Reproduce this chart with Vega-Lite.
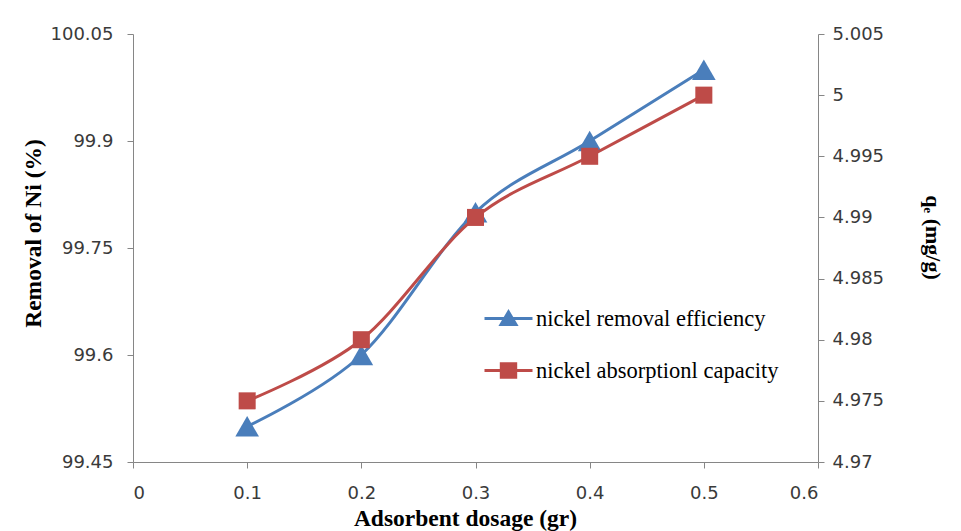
{
  "$schema": "https://vega.github.io/schema/vega-lite/v6.json",
  "width": 685,
  "height": 428,
  "autosize": {"type": "none"},
  "padding": {"left": 133, "top": 34, "right": 143, "bottom": 69},
  "background": "white",
  "config": {
    "view": {"stroke": null},
    "axis": {
      "grid": false,
      "domainColor": "#868686",
      "tickColor": "#868686",
      "labelFont": "DejaVu Sans",
      "labelFontSize": 18,
      "labelColor": "#3a3a3a",
      "titleFont": "Liberation Serif",
      "titleFontSize": 23.5,
      "titleFontWeight": "bold",
      "titleColor": "black",
      "tickSize": 6
    }
  },
  "data": {
    "values": [
      {"dosage": 0.1, "series": "nickel removal efficiency", "value": 99.5},
      {"dosage": 0.2, "series": "nickel removal efficiency", "value": 99.6},
      {"dosage": 0.3, "series": "nickel removal efficiency", "value": 99.8},
      {"dosage": 0.4, "series": "nickel removal efficiency", "value": 99.9},
      {"dosage": 0.5, "series": "nickel removal efficiency", "value": 100.0},
      {"dosage": 0.1, "series": "nickel absorptionl capacity", "value": 4.975},
      {"dosage": 0.2, "series": "nickel absorptionl capacity", "value": 4.98},
      {"dosage": 0.3, "series": "nickel absorptionl capacity", "value": 4.99},
      {"dosage": 0.4, "series": "nickel absorptionl capacity", "value": 4.995},
      {"dosage": 0.5, "series": "nickel absorptionl capacity", "value": 5.0}
    ]
  },
  "encoding": {
    "x": {
      "field": "dosage",
      "type": "quantitative",
      "scale": {"domain": [0, 0.6], "nice": false, "zero": false},
      "axis": {
        "title": "Adsorbent dosage (gr)",
        "values": [0, 0.1, 0.2, 0.3, 0.4, 0.5, 0.6],
        "format": ".1~f",
        "labelPadding": 16,
        "titleX": 332,
        "titleY": 63,
        "titleAlign": "center",
        "titleBaseline": "alphabetic"
      }
    },
    "color": {
      "field": "series",
      "type": "nominal",
      "scale": {
        "domain": ["nickel removal efficiency", "nickel absorptionl capacity"],
        "range": ["#4A7EBB", "#BE4B48"]
      },
      "legend": {
        "orient": "none",
        "legendX": 350,
        "legendY": 259,
        "title": null,
        "symbolSize": 2304,
        "symbolStrokeWidth": 3,
        "labelFont": "Liberation Serif",
        "labelFontSize": 22.5,
        "labelColor": "black",
        "labelLimit": 0,
        "rowPadding": 14,
        "labelOffset": 2,
        "encode": {
          "symbols": {
            "update": {
              "shape": {"signal": "datum.value === 'nickel removal efficiency' ? 'M-1,0H1M-0.31,0.25L0,-0.27L0.31,0.25Z' : 'M-1,0H1M-0.3,-0.28H0.3V0.28H-0.3Z'"},
              "fill": {"signal": "scale('color', datum.value)"},
              "stroke": {"signal": "scale('color', datum.value)"},
              "strokeWidth": {"value": 3},
              "opacity": {"value": 1}
            }
          }
        }
      }
    }
  },
  "layer": [
    {
      "transform": [{"filter": "datum.series === 'nickel removal efficiency'"}],
      "mark": {
        "type": "line",
        "interpolate": "cardinal",
        "strokeWidth": 3,
        "point": {"shape": "triangle-up", "size": 560, "filled": true, "opacity": 1}
      },
      "encoding": {
        "y": {
          "field": "value",
          "type": "quantitative",
          "scale": {"domain": [99.45, 100.05], "zero": false, "nice": false},
          "axis": {
            "orient": "left",
            "title": "Removal of Ni (%)",
            "values": [99.45, 99.6, 99.75, 99.9, 100.05],
            "format": ".2~f",
            "labelPadding": 14,
            "titleX": -100,
            "titleY": 199,
            "titleAngle": -90,
            "titleAlign": "center",
            "titleBaseline": "middle"
          }
        }
      }
    },
    {
      "transform": [{"filter": "datum.series === 'nickel absorptionl capacity'"}],
      "mark": {
        "type": "line",
        "interpolate": "cardinal",
        "strokeWidth": 3,
        "point": {"shape": "square", "size": 290, "filled": true, "opacity": 1}
      },
      "encoding": {
        "y": {
          "field": "value",
          "type": "quantitative",
          "scale": {"domain": [4.97, 5.005], "zero": false, "nice": false},
          "axis": {
            "orient": "right",
            "title": "q\u2091 (mg/g)",
            "titleFontSize": 22,
            "titleAngle": 90,
            "titleX": 114,
            "titleY": 203,
            "titleAlign": "center",
            "titleBaseline": "middle",
            "values": [4.97, 4.975, 4.98, 4.985, 4.99, 4.995, 5.0, 5.005],
            "format": ".3~f",
            "labelPadding": 8
          }
        }
      }
    }
  ],
  "resolve": {"scale": {"y": "independent"}}
}
